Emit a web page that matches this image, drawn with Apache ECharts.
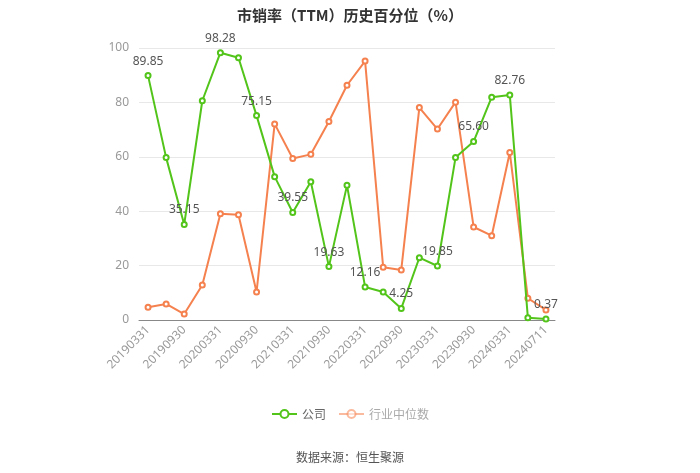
<!DOCTYPE html>
<html><head><meta charset="utf-8">
<script src="https://cdn.jsdelivr.net/npm/echarts@6/dist/echarts.min.js"></script>
<style>html,body{margin:0;padding:0;background:#fff}#c{width:700px;height:473px}</style>
</head><body><div id="c"></div>
<script>
var categories = ['20190331','20190630','20190930','20191231','20200331','20200630','20200930','20201231','20210331','20210630','20210930','20211231','20220331','20220630','20220930','20221231','20230331','20230630','20230930','20231231','20240331','20240630','20240711'];
var companyValues = [89.85,59.7,35.15,80.6,98.28,96.4,75.15,52.7,39.55,50.8,19.63,49.5,12.16,10.3,4.25,22.9,19.85,59.7,65.60,81.9,82.76,0.86,0.37];
var industryValues = [4.7,5.9,2.2,12.9,39.1,38.7,10.3,72.1,59.4,60.9,73.0,86.3,95.2,19.4,18.4,78.1,70.2,80.1,34.2,31.0,61.6,8.0,3.7];
var yTicks = [0,20,40,60,80,100];

var chart = echarts.init(document.getElementById('c'), null, {renderer:'canvas'});
var green = '#52c41a', orange = '#f5814f';
chart.setOption({
  animation:false,
  backgroundColor:'#fff',
  title:{text:'市销率（TTM）历史百分位（%）', left:'center', top:3,
    textStyle:{fontSize:15, fontWeight:'bold', color:'#333', fontFamily:'Noto Sans CJK SC'}},
  legend:{bottom:48, left:'center', itemWidth:25, itemHeight:10, itemGap:12,
    textStyle:{fontSize:12, color:'#666', fontFamily:'Noto Sans CJK SC'},
    data:[{name:'公司'},{name:'行业中位数', itemStyle:{opacity:0.55}, lineStyle:{opacity:0.55}, textStyle:{color:'#aaa'}}]},
  graphic:[{type:'text', left:'center', top:451, style:{text:'数据来源：恒生聚源', fill:'#555', font:'12px "Noto Sans CJK SC"'}}],
  grid:{left:139, right:145, top:48, bottom:153},
  xAxis:{type:'category', data:categories, boundaryGap:true,
    axisLine:{lineStyle:{color:'#888'}},
    axisTick:{alignWithLabel:true, interval:1, lineStyle:{color:'#888'}},
    axisLabel:{interval:1, rotate:45, color:'#999', fontSize:12, fontFamily:'Noto Sans'}},
  yAxis:{type:'value', min:yTicks[0], max:yTicks[yTicks.length-1], interval:20,
    axisLine:{show:false}, axisTick:{show:false},
    axisLabel:{color:'#999', fontSize:12, fontFamily:'Noto Sans', margin:10},
    splitLine:{lineStyle:{color:'#e8e8e8'}}},
  series:[
    {name:'公司', type:'line', data:companyValues, symbol:'emptyCircle', symbolSize:5, z:3,
      itemStyle:{color:green}, lineStyle:{width:2, color:green},
      label:{show:true, position:'top', color:'#555', fontSize:12, fontFamily:'Noto Sans',
        formatter:function(p){return p.dataIndex%2===0 ? p.value.toFixed(2) : '';}}},
    {name:'行业中位数', type:'line', data:industryValues, symbol:'emptyCircle', symbolSize:5, z:2,
      itemStyle:{color:orange}, lineStyle:{width:2, color:orange}}
  ]
});
</script></body></html>
